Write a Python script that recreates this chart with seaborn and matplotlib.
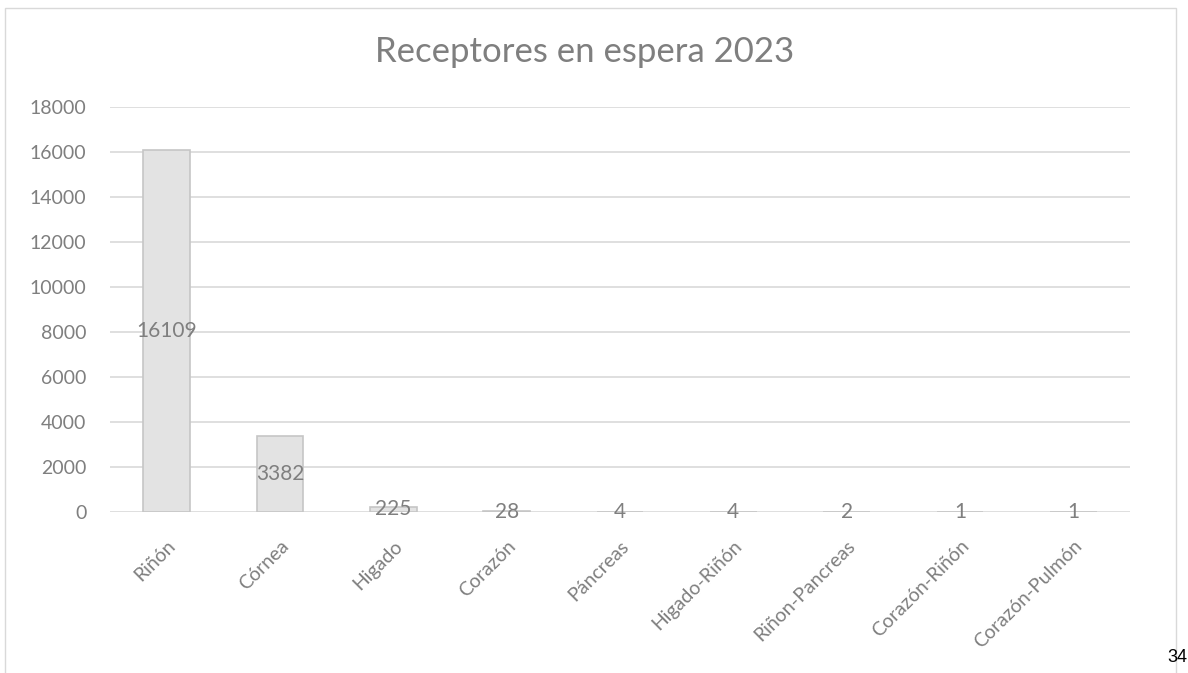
import numpy as np
import pandas as pd
import matplotlib
matplotlib.use('Agg')
import matplotlib.pyplot as plt
from matplotlib.patches import Rectangle
import seaborn as sns

# data
organos = ['Riñón', 'Córnea', 'Higado', 'Corazón', 'Páncreas',
           'Higado-Riñón', 'Riñon-Pancreas', 'Corazón-Riñón', 'Corazón-Pulmón']
receptores = [16109, 3382, 225, 28, 4, 4, 2, 1, 1]
y_ticks = [0, 2000, 4000, 6000, 8000, 10000, 12000, 14000, 16000, 18000]

TXT = '#7f7f7f'
GRID = '#d9d9d9'

sns.set_theme(style='white')
plt.rcParams['font.family'] = ['Lato', 'DejaVu Sans']

df = pd.DataFrame({'organo': organos, 'n': receptores})

fig = plt.figure(figsize=(11.88, 6.73), dpi=100)
ax = fig.add_axes([110 / 1188, 1 - 512 / 673, 1020 / 1188, 405 / 673])

sns.barplot(data=df, x='organo', y='n', ax=ax, width=0.41,
            color='#e3e3e3', edgecolor='#c6c6c6', linewidth=1.2, saturation=1)

for c in ax.containers:
    ax.bar_label(c, labels=[str(v) for v in receptores], label_type='center',
                 fontsize=15, color=TXT)

ax.set_ylim(0, 18000)
ax.set_xlim(-0.5, len(organos) - 0.5)
ax.set_yticks(y_ticks)
ax.set_yticklabels([str(t) for t in y_ticks])
ax.yaxis.grid(True, color=GRID, linewidth=1.2)
ax.set_axisbelow(True)
for s in ax.spines.values():
    s.set_visible(False)
ax.tick_params(axis='y', length=0, pad=17, labelsize=14, labelcolor=TXT)
ax.tick_params(axis='x', length=0, pad=18, labelsize=14, labelcolor=TXT)
plt.setp(ax.get_xticklabels(), rotation=45, ha='right', rotation_mode='anchor')
ax.set_xlabel('')
ax.set_ylabel('')

fig.text(585 / 1188, 1 - 52 / 673, 'Receptores en espera 2023', ha='center', va='center',
         fontsize=25, color=TXT)

# chart border
fig.add_artist(Rectangle((5 / 1188, -0.01), 1171 / 1188, 1 - 8 / 673 + 0.01,
                         transform=fig.transFigure, fill=False,
                         edgecolor=GRID, linewidth=1))

# page number
fig.text(1167 / 1188, 1 - 658 / 673, '34', ha='left', va='center', fontsize=13,
         color='black', family=['Liberation Sans', 'DejaVu Sans'])

fig.savefig('out.png', dpi=100)
